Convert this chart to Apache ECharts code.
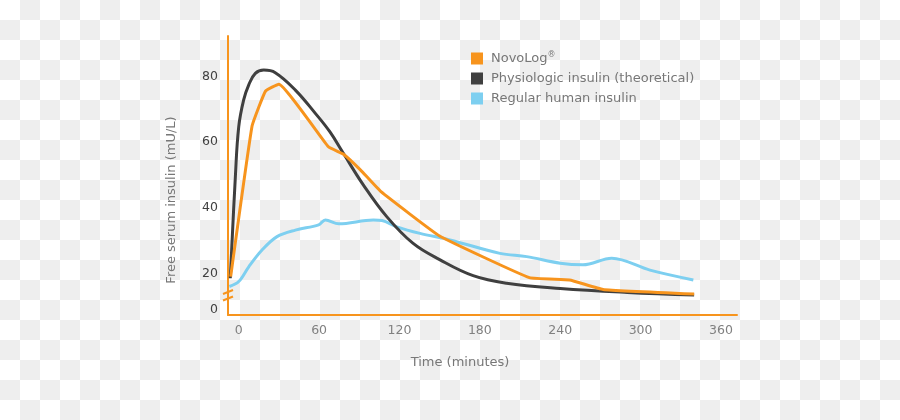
<!DOCTYPE html>
<html>
<head>
<meta charset="utf-8">
<script src="https://cdn.jsdelivr.net/npm/echarts@6/dist/echarts.min.js"></script>
<style>
html, body { margin:0; padding:0; width:900px; height:420px; overflow:hidden;
  background: repeating-conic-gradient(#eeeeee 0 25%, #ffffff 0 50%) 0 0/40px 40px; }
#chart { width:900px; height:420px; }
</style>
</head>
<body>
<div id="chart"></div>
<script>
// Time (minutes), free serum insulin (mU/L)
const novologData = [[-6,19],[10,65],[20,75.6],[30,77.7],[67,58.6],[78,56.4],[91,51.5],[106,45],[150,31.4],[217,18.7],[247,18],[272,15.1],[340,13.7]];
const physioData = [[-6.3,18.5],[-2.5,49.5],[0,64.7],[3.7,72.9],[7.5,77.5],[12.4,81],[18.7,82],[27.3,81.2],[42.3,75.9],[57.2,68.8],[68,63.2],[78,56.7],[93,47],[110.5,37.3],[130,29.2],[150,24.2],[175,19.3],[200,17],[240,15.4],[290,14.2],[340,13.4]];
const regularData = [[-7,16],[0,17.5],[7.5,22],[17.4,27.1],[28.6,31.2],[42.3,33.2],[59.7,34.8],[64.7,36.3],[74.7,35.1],[100.5,36.3],[107,36.1],[118,34.2],[135.3,32.2],[157.7,30.2],[195,26.1],[215,25.1],[240,23.1],[257,22.6],[278.5,24.6],[307,21],[339.4,18]];
const xTickValues = [0,60,120,180,240,300,360];
const yTickValues = [9,20,40,60,80];   // the first one is shown as "0" (broken axis)
const yTickLabels = ['0','20','40','60','80'];
const seriesNames = ['NovoLog®','Physiologic insulin (theoretical)','Regular human insulin'];
const seriesColors = ['#f7941d','#3f3f3f','#7dcff0'];

const chart = echarts.init(document.getElementById('chart'), null, {renderer:'canvas'});
const FONT = 'DejaVu Sans, Verdana, sans-serif';
const AXIS_ORANGE = '#f7941d';

chart.setOption({
  animation:false,
  backgroundColor:'transparent',
  grid:{left:228, top:36, width:509, height:279, containLabel:false},
  legend:{
    orient:'vertical', left:471, top:51, padding:0, itemWidth:12, itemHeight:12, itemGap:7,
    icon:'rect',
    data:seriesNames,
    textStyle:{color:'#777', fontSize:13, fontFamily:FONT, padding:[0,0,0,3],
      rich:{sup:{fontSize:8, color:'#777', fontFamily:FONT, padding:[0,0,7,0]}}},
    formatter: n => n.replace('®','{sup|®}')
  },
  xAxis:{
    type:'value', min:-8, max:372,
    axisLine:{show:true, onZero:false, lineStyle:{color:AXIS_ORANGE, width:2}},
    axisTick:{show:false},
    splitLine:{show:false},
    axisLabel:{customValues:xTickValues, color:'#808080', fontSize:12.5, fontFamily:FONT, margin:9}
  },
  yAxis:{
    type:'value', min:7.3, max:92.4,
    axisLine:{show:true, onZero:false, lineStyle:{color:AXIS_ORANGE, width:2}},
    axisTick:{show:false},
    splitLine:{show:false},
    axisLabel:{customValues:yTickValues, color:'#404040', fontSize:12.5, fontFamily:FONT, margin:10,
      formatter: v => yTickLabels[yTickValues.indexOf(v)]}
  },
  series:[
    {name:seriesNames[2], type:'line', data:regularData, smooth:0.35, showSymbol:false, z:2,
      lineStyle:{color:seriesColors[2], width:3}, itemStyle:{color:seriesColors[2]}},
    {name:seriesNames[1], type:'line', data:physioData, smooth:0.4, showSymbol:false, z:3,
      lineStyle:{color:seriesColors[1], width:3}, itemStyle:{color:seriesColors[1]}},
    {name:seriesNames[0], type:'line', data:novologData, smooth:0.1, showSymbol:false, z:4,
      lineStyle:{color:seriesColors[0], width:3}, itemStyle:{color:seriesColors[0]}}
  ]
});

// axis titles and the break marks on the y axis
const p0 = chart.convertToPixel({gridIndex:0}, [-8, 7.3]);
const ax = p0[0], ay = p0[1];
chart.setOption({
  graphic:[
    {type:'text', x:460, y:ay+48, style:{text:'Time (minutes)', fill:'#777', font:'13px '+FONT, textAlign:'center', textVerticalAlign:'middle'}, silent:true},
    {type:'text', x:172, y:200, rotation:Math.PI/2, style:{text:'Free serum insulin (mU/L)', fill:'#777', font:'13px '+FONT, textAlign:'center', textVerticalAlign:'middle'}, silent:true},
    {type:'line', shape:{x1:ax-5, y1:ay-21, x2:ax+5, y2:ay-25}, style:{stroke:AXIS_ORANGE, lineWidth:2}, silent:true},
    {type:'line', shape:{x1:ax-5, y1:ay-14.5, x2:ax+5, y2:ay-18.5}, style:{stroke:AXIS_ORANGE, lineWidth:2}, silent:true}
  ]
});
</script>
</body>
</html>
